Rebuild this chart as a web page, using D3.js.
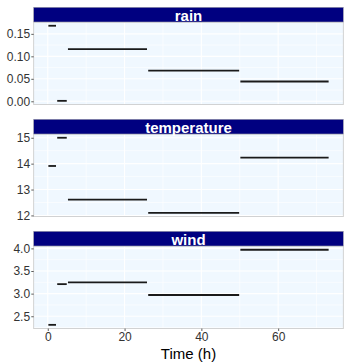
<!DOCTYPE html>
<html>
<head>
<meta charset="utf-8">
<script src="https://cdn.jsdelivr.net/npm/d3@7"></script>
<style>
  html, body { margin: 0; padding: 0; background: #ffffff; }
  svg { display: block; font-family: "Liberation Sans", Arial, sans-serif; }
</style>
</head>
<body>
<svg id="chart" width="344" height="364"></svg>
<script>
// Interval boundaries (hours) shared by all variables
const segStart = [0, 2.3, 5.1, 26, 50];
const segEnd   = [2.3, 5.1, 26, 50, 73.3];

// Mean value of each variable over each interval
const variables   = ["rain", "temperature", "wind"];
const rainValues  = [0.168, 0.001, 0.116, 0.068, 0.044];
const tempValues  = [13.91, 15.0, 12.61, 12.10, 14.23];
const windValues  = [2.31, 3.21, 3.25, 2.97, 3.97];

// Axis ticks
const xTicks    = [0, 20, 40, 60];
const rainTicks = [0, 0.05, 0.10, 0.15];
const tempTicks = [12, 13, 14, 15];
const windTicks = [2.5, 3.0, 3.5, 4.0];

const panels = [
  { name: variables[0], values: rainValues, ticks: rainTicks, fmt: d3.format(".2f") },
  { name: variables[1], values: tempValues, ticks: tempTicks, fmt: d3.format("d") },
  { name: variables[2], values: windValues, ticks: windTicks, fmt: d3.format(".1f") }
];

const svg = d3.select("#chart");
const left = 33.7, right = 343.3;
const top0 = 7.3, stripH = 14.7, panelH = 82.6, gap = 14.7;

// expand a [min,max] extent by 5% on each side
function expand(ext) {
  const pad = (ext[1] - ext[0]) * 0.05;
  return [ext[0] - pad, ext[1] + pad];
}

const x = d3.scaleLinear()
  .domain(expand([d3.min(segStart), d3.max(segEnd)]))
  .range([left, right]);

const xMinor = [10, 30, 50, 70];

panels.forEach((p, i) => {
  const sTop = top0 + i * (stripH + panelH + gap);
  const pTop = sTop + stripH;
  const pBot = pTop + panelH;

  const y = d3.scaleLinear()
    .domain(expand(d3.extent(p.values)))
    .range([pBot, pTop]);

  const g = svg.append("g");

  // panel background
  g.append("rect")
    .attr("x", left).attr("y", pTop)
    .attr("width", right - left).attr("height", panelH)
    .attr("fill", "#F0F8FF");

  // minor grid
  const yMinor = d3.pairs(p.ticks).map(d => (d[0] + d[1]) / 2);
  const dt = p.ticks[1] - p.ticks[0];
  yMinor.unshift(p.ticks[0] - dt / 2);
  yMinor.push(p.ticks[p.ticks.length - 1] + dt / 2);
  const yd = y.domain();
  g.selectAll(".ymin").data(yMinor.filter(v => v > yd[0] && v < yd[1])).join("line")
    .attr("x1", left).attr("x2", right)
    .attr("y1", d => y(d)).attr("y2", d => y(d))
    .attr("stroke", "#ffffff").attr("stroke-width", 0.6);
  g.selectAll(".xmin").data(xMinor).join("line")
    .attr("x1", d => x(d)).attr("x2", d => x(d))
    .attr("y1", pTop).attr("y2", pBot)
    .attr("stroke", "#ffffff").attr("stroke-width", 0.6);

  // major grid
  g.selectAll(".ymaj").data(p.ticks).join("line")
    .attr("x1", left).attr("x2", right)
    .attr("y1", d => y(d)).attr("y2", d => y(d))
    .attr("stroke", "#ffffff").attr("stroke-width", 1.1);
  g.selectAll(".xmaj").data(xTicks).join("line")
    .attr("x1", d => x(d)).attr("x2", d => x(d))
    .attr("y1", pTop).attr("y2", pBot)
    .attr("stroke", "#ffffff").attr("stroke-width", 1.1);

  // panel border
  g.append("rect")
    .attr("x", left).attr("y", pTop)
    .attr("width", right - left).attr("height", panelH)
    .attr("fill", "none").attr("stroke", "#c8c8c8").attr("stroke-width", 0.8);

  // strip
  g.append("rect")
    .attr("x", left).attr("y", sTop)
    .attr("width", right - left).attr("height", stripH)
    .attr("fill", "#000080").attr("stroke", "#9a9aa8").attr("stroke-width", 0.6);
  g.append("text")
    .attr("x", (left + right) / 2).attr("y", sTop + stripH / 2 + 0.5)
    .attr("text-anchor", "middle").attr("dominant-baseline", "central")
    .attr("fill", "#ffffff").attr("font-size", 15).attr("font-weight", "bold")
    .text(p.name);

  // segments
  g.selectAll(".seg").data(p.values).join("line")
    .attr("x1", (d, j) => x(segStart[j]) + 0.6)
    .attr("x2", (d, j) => x(segEnd[j]) - 0.6)
    .attr("y1", d => y(d)).attr("y2", d => y(d))
    .attr("stroke", "#1a1a1a").attr("stroke-width", 1.8);

  // y axis
  const yAxis = d3.axisLeft(y).tickValues(p.ticks).tickFormat(p.fmt).tickSize(2.4).tickPadding(1.2);
  const ya = g.append("g").attr("transform", `translate(${left},0)`).call(yAxis);
  ya.select(".domain").remove();
  ya.selectAll(".tick line").attr("stroke", "#333333").attr("stroke-width", 0.8);
  ya.selectAll(".tick text").attr("fill", "#333333").attr("font-size", 12)
    .attr("font-family", "Liberation Sans, Arial, sans-serif");

  // x axis on bottom panel
  if (i === panels.length - 1) {
    const xAxis = d3.axisBottom(x).tickValues(xTicks).tickFormat(d3.format("d")).tickSize(2.4).tickPadding(1.2);
    const xa = g.append("g").attr("transform", `translate(0,${pBot})`).call(xAxis);
    xa.select(".domain").remove();
    xa.selectAll(".tick line").attr("stroke", "#333333").attr("stroke-width", 0.8);
    xa.selectAll(".tick text").attr("fill", "#333333").attr("font-size", 12)
      .attr("font-family", "Liberation Sans, Arial, sans-serif");

    svg.append("text")
      .attr("x", (left + right) / 2).attr("y", 358.5)
      .attr("text-anchor", "middle")
      .attr("fill", "#000000").attr("font-size", 15)
      .text("Time (h)");
  }
});
</script>
</body>
</html>
